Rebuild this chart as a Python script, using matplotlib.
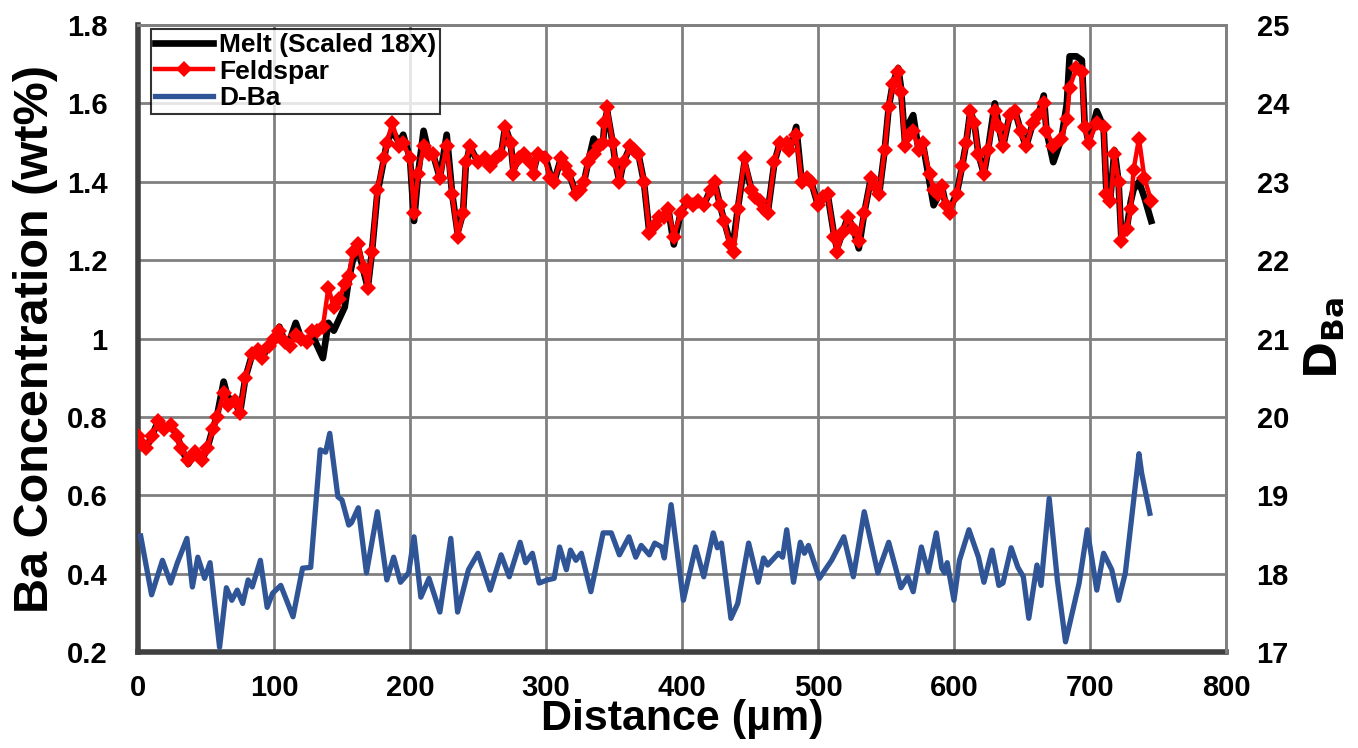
import matplotlib
matplotlib.use("Agg")
import matplotlib.pyplot as plt

# Feldspar profile (left axis, wt%)
fsp_x = [0, 3, 6, 10, 15, 19, 24, 29, 32, 37, 42, 47, 51, 55, 58, 63, 66, 71, 75, 79,
         84, 88, 91, 96, 100, 104, 108, 112, 116, 120, 124, 128, 132, 136, 140, 144, 148, 152, 155, 158,
         162, 166, 169, 172, 176, 181, 183, 187, 192, 195, 200, 203, 206, 210, 214, 217, 222, 227, 231, 235,
         239, 241, 244, 250, 255, 259, 263, 267, 270, 274, 276, 280, 284, 288, 291, 294, 299, 303, 306, 311,
         314, 317, 322, 325, 328, 331, 335, 339, 342, 343, 345, 349, 351, 354, 357, 362, 365, 368, 372, 376,
         380, 383, 387, 390, 394, 399, 404, 408, 412, 416, 421, 424, 428, 431, 435, 438, 441, 446, 451, 454,
         457, 460, 463, 468, 472, 477, 479, 484, 488, 492, 495, 500, 504, 507, 512, 514, 518, 522, 526, 530,
         534, 539, 542, 545, 549, 552, 555, 559, 561, 564, 567, 570, 574, 577, 582, 585, 588, 591, 594, 597,
         602, 606, 609, 612, 615, 618, 622, 625, 630, 633, 636, 641, 645, 649, 653, 658, 662, 666, 668, 673,
         679, 683, 685, 690, 694, 696, 699, 705, 710, 712, 715, 718, 721, 723, 727, 730, 732, 736, 740, 745]
fsp_y = [0.75, 0.73, 0.72, 0.75, 0.79, 0.77, 0.78, 0.75, 0.72, 0.69, 0.71, 0.69, 0.72, 0.77, 0.80, 0.86, 0.83, 0.84, 0.81, 0.90,
         0.96, 0.97, 0.95, 0.98, 1.00, 1.02, 0.99, 0.98, 1.01, 1.00, 0.99, 1.02, 1.02, 1.03, 1.13, 1.08, 1.10, 1.14, 1.16, 1.22,
         1.24, 1.18, 1.13, 1.22, 1.38, 1.46, 1.50, 1.55, 1.49, 1.50, 1.46, 1.32, 1.42, 1.49, 1.47, 1.47, 1.41, 1.49, 1.37, 1.26,
         1.32, 1.45, 1.49, 1.45, 1.46, 1.44, 1.46, 1.47, 1.54, 1.50, 1.42, 1.46, 1.47, 1.45, 1.42, 1.47, 1.46, 1.41, 1.40, 1.46,
         1.44, 1.42, 1.37, 1.38, 1.40, 1.45, 1.47, 1.49, 1.50, 1.55, 1.59, 1.50, 1.45, 1.40, 1.45, 1.49, 1.48, 1.47, 1.40, 1.27,
         1.29, 1.31, 1.31, 1.33, 1.26, 1.32, 1.35, 1.34, 1.35, 1.34, 1.38, 1.40, 1.34, 1.30, 1.24, 1.22, 1.33, 1.46, 1.38, 1.36,
         1.35, 1.33, 1.32, 1.45, 1.50, 1.50, 1.48, 1.52, 1.40, 1.41, 1.40, 1.34, 1.36, 1.37, 1.26, 1.22, 1.27, 1.31, 1.28, 1.25,
         1.32, 1.41, 1.39, 1.37, 1.48, 1.59, 1.65, 1.68, 1.63, 1.49, 1.52, 1.53, 1.48, 1.50, 1.42, 1.38, 1.37, 1.39, 1.34, 1.32,
         1.37, 1.44, 1.50, 1.58, 1.55, 1.47, 1.42, 1.48, 1.58, 1.54, 1.49, 1.57, 1.58, 1.53, 1.49, 1.55, 1.57, 1.60, 1.53, 1.49,
         1.51, 1.56, 1.64, 1.69, 1.68, 1.54, 1.50, 1.55, 1.54, 1.37, 1.35, 1.47, 1.40, 1.25, 1.28, 1.33, 1.43, 1.51, 1.41, 1.35]

# Melt profile, scaled 18X (left axis)
melt_x = fsp_x
melt_y = [0.75, 0.73, 0.72, 0.75, 0.79, 0.77, 0.78, 0.75, 0.72, 0.68, 0.71, 0.69, 0.72, 0.77, 0.80, 0.89, 0.85, 0.84, 0.81, 0.90,
          0.96, 0.97, 0.95, 0.98, 1.00, 1.03, 0.99, 1.00, 1.04, 1.00, 0.99, 1.01, 0.98, 0.95, 1.04, 1.02, 1.05, 1.08, 1.15, 1.20,
          1.23, 1.17, 1.13, 1.22, 1.37, 1.46, 1.50, 1.53, 1.50, 1.52, 1.46, 1.30, 1.42, 1.53, 1.47, 1.47, 1.41, 1.52, 1.37, 1.27,
          1.32, 1.44, 1.49, 1.45, 1.46, 1.44, 1.46, 1.47, 1.54, 1.50, 1.43, 1.46, 1.47, 1.45, 1.43, 1.47, 1.47, 1.42, 1.40, 1.46,
          1.44, 1.42, 1.37, 1.38, 1.40, 1.45, 1.51, 1.49, 1.50, 1.55, 1.58, 1.50, 1.45, 1.40, 1.45, 1.49, 1.48, 1.47, 1.40, 1.27,
          1.29, 1.31, 1.31, 1.33, 1.24, 1.32, 1.35, 1.34, 1.35, 1.34, 1.38, 1.40, 1.34, 1.30, 1.25, 1.25, 1.33, 1.45, 1.38, 1.36,
          1.35, 1.33, 1.32, 1.45, 1.50, 1.50, 1.48, 1.54, 1.40, 1.41, 1.40, 1.34, 1.36, 1.37, 1.26, 1.23, 1.27, 1.31, 1.28, 1.23,
          1.32, 1.41, 1.39, 1.37, 1.48, 1.59, 1.65, 1.69, 1.64, 1.50, 1.55, 1.57, 1.48, 1.50, 1.40, 1.34, 1.36, 1.39, 1.34, 1.33,
          1.37, 1.44, 1.50, 1.58, 1.55, 1.47, 1.42, 1.48, 1.60, 1.54, 1.49, 1.57, 1.58, 1.53, 1.49, 1.55, 1.57, 1.62, 1.53, 1.45,
          1.51, 1.60, 1.72, 1.72, 1.71, 1.55, 1.50, 1.58, 1.54, 1.38, 1.36, 1.48, 1.40, 1.26, 1.28, 1.35, 1.38, 1.40, 1.36, 1.30]

# Partition coefficient D-Ba (right axis)
dba_x = [2, 10, 18, 24, 29, 36, 40, 44, 49, 53, 60, 65, 69, 73, 77, 81, 84, 90, 95, 99,
         105, 114, 121, 127, 134, 138, 141, 147, 150, 155, 157, 162, 168, 176, 183, 188, 193, 199, 203, 208,
         214, 222, 230, 235, 243, 250, 259, 267, 273, 281, 285, 290, 295, 301, 306, 310, 315, 318, 322, 326,
         333, 342, 348, 354, 361, 366, 370, 376, 380, 385, 387, 392, 401, 410, 416, 423, 426, 429, 436, 441,
         449, 456, 460, 463, 471, 474, 477, 482, 487, 490, 493, 501, 510, 519, 526, 534, 544, 552, 561, 566,
         570, 576, 581, 587, 591, 593, 595, 600, 604, 611, 618, 622, 628, 633, 636, 642, 647, 651, 655, 661,
         664, 670, 676, 682, 692, 698, 705, 710, 716, 721, 726, 736, 738, 744]
dba_y = [18.48, 17.73, 18.17, 17.88, 18.14, 18.45, 17.83, 18.21, 17.94, 18.14, 17.06, 17.82, 17.66, 17.79, 17.62, 17.92, 17.83, 18.17, 17.57, 17.75,
         17.85, 17.45, 18.07, 18.08, 19.58, 19.55, 19.79, 18.98, 18.94, 18.62, 18.65, 18.84, 18.01, 18.79, 17.92, 18.21, 17.89, 18.01, 18.47, 17.70,
         17.94, 17.51, 18.45, 17.51, 18.05, 18.26, 17.79, 18.24, 17.96, 18.40, 18.14, 18.26, 17.88, 17.92, 17.94, 18.34, 18.05, 18.30, 18.17, 18.26,
         17.77, 18.52, 18.52, 18.24, 18.47, 18.21, 18.36, 18.24, 18.39, 18.34, 18.20, 18.88, 17.66, 18.34, 17.96, 18.52, 18.33, 18.39, 17.43, 17.62,
         18.39, 17.89, 18.20, 18.11, 18.26, 18.21, 18.56, 17.89, 18.40, 18.26, 18.36, 17.94, 18.17, 18.47, 17.96, 18.79, 18.01, 18.40, 17.82, 17.96,
         17.77, 18.34, 18.02, 18.52, 18.07, 18.01, 18.14, 17.66, 18.17, 18.56, 18.21, 17.89, 18.30, 17.85, 17.88, 18.33, 18.08, 17.96, 17.43, 18.11,
         17.85, 18.96, 17.92, 17.13, 17.88, 18.56, 17.79, 18.26, 18.05, 17.66, 18.01, 19.53, 19.28, 18.77]

plt.rcParams['font.family'] = ['Liberation Sans', 'DejaVu Sans']
plt.rcParams['font.weight'] = 'bold'

fig = plt.figure(figsize=(13.58, 7.48), dpi=100)
ax = fig.add_axes([0.1016, 0.1283, 0.8012, 0.8383])
ax2 = ax.twinx()

l1, = ax.plot(melt_x, melt_y, color='black', lw=4.8, solid_joinstyle='round', label='Melt (Scaled 18X)', zorder=3)
l2, = ax.plot(fsp_x, fsp_y, color='#ff0000', lw=3.2, marker='D', markersize=8.5,
              markeredgewidth=0, label='Feldspar', zorder=4)
l3, = ax2.plot(dba_x, dba_y, color='#2f5597', lw=3.8, solid_joinstyle='round', label='D-Ba')

ax.set_xlim(0, 800)
ax.set_ylim(0.2, 1.8)
ax2.set_ylim(17, 25)
ax.set_xticks(range(0, 801, 100))
ax.set_yticks([0.2, 0.4, 0.6, 0.8, 1.0, 1.2, 1.4, 1.6, 1.8])
ax.set_yticklabels(['0.2', '0.4', '0.6', '0.8', '1', '1.2', '1.4', '1.6', '1.8'])
ax2.set_yticks(range(17, 26))

ax.grid(True, color='#808080', lw=2)
ax.set_axisbelow(True)
ax.tick_params(axis='y', length=0, labelsize=21, pad=22)
ax.tick_params(axis='x', length=0, labelsize=21, pad=16)
ax2.tick_params(length=0, labelsize=21, pad=22)

for a in (ax, ax2):
    for s in a.spines.values():
        s.set_color('#808080')
        s.set_linewidth(2)
ax.spines['left'].set_color('#404040')
ax.spines['left'].set_linewidth(4)
ax.spines['bottom'].set_color('#404040')
ax.spines['bottom'].set_linewidth(4)
ax2.spines['left'].set_visible(False)
ax2.spines['bottom'].set_visible(False)

ax.set_xlabel('Distance (µm)', fontsize=31, fontweight='bold', labelpad=-2)
ax.set_ylabel('Ba Concentration (wt%)', fontsize=35, fontweight='bold', labelpad=6)
ax2.set_ylabel(r'$\mathbf{D_{Ba}}$', fontsize=32, labelpad=10)

leg = ax.legend(handles=[l1, l2, l3], loc='upper left', bbox_to_anchor=(0.008, 1.0),
                fontsize=19, frameon=True, fancybox=False, handlelength=2.2,
                handletextpad=0.25, borderpad=0.15, labelspacing=0.1, borderaxespad=0.15)
leg.get_frame().set_edgecolor('black')
leg.get_frame().set_linewidth(1.5)
leg.set_zorder(10)

fig.savefig('out.png', dpi=100)
